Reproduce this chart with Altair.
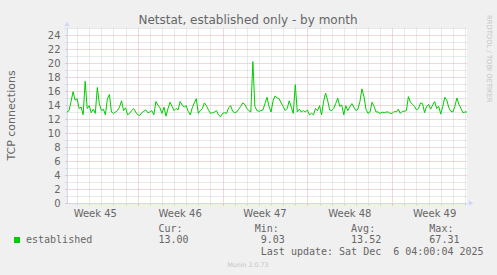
import altair as alt
import pandas as pd

# ---------------- data ----------------
values = [
    13.0, 13.2, 14.5, 15.9, 14.7, 14.9, 13.5, 13.7, 12.6, 17.4,
    13.5, 13.9, 12.9, 13.4, 12.8, 16.5, 14.2, 13.2, 13.4, 12.6,
    14.9, 15.5, 13.0, 12.8, 13.0, 13.2, 13.7, 14.6, 13.2, 13.6,
    12.6, 12.8, 13.2, 13.5, 13.0, 12.6, 12.5, 12.9, 13.1, 13.3,
    12.9, 13.0, 13.2, 12.6, 14.5, 14.0, 13.6, 12.8, 13.7, 12.4,
    13.5, 14.4, 13.8, 13.2, 13.5, 13.3, 14.5, 14.0, 13.7, 13.9,
    13.1, 12.6, 13.6, 14.3, 14.9, 12.8, 13.2, 13.5, 14.3, 13.9,
    13.3, 12.8, 12.9, 13.0, 13.2, 12.6, 12.3, 12.8, 12.9, 12.8,
    13.6, 13.9, 13.1, 12.9, 13.0, 13.4, 13.8, 14.3, 14.1, 13.5,
    13.2, 13.0, 20.2, 13.8, 13.2, 13.1, 13.2, 13.3, 14.2, 15.1,
    13.8, 13.0, 14.6, 15.3, 15.0, 14.9, 14.3, 13.8, 13.2, 13.5,
    14.6, 13.7, 12.8, 16.9, 13.0, 13.4, 13.0, 13.2, 13.0, 13.3,
    12.6, 12.8, 12.6, 13.5, 13.2, 13.9, 12.6, 14.5, 15.7, 14.7,
    13.3, 13.2, 13.5, 14.2, 15.0, 13.8, 14.0, 12.6, 13.9, 13.2,
    13.7, 14.2, 13.7, 13.2, 13.4, 14.5, 16.3, 15.2, 13.4, 12.8,
    13.0, 14.4, 13.8, 13.0, 13.0, 12.8, 13.0, 12.9, 13.0, 13.0,
    12.8, 12.8, 13.1, 13.0, 13.4, 12.8, 13.1, 13.1, 13.2, 15.2,
    14.4, 14.1, 13.8, 13.3, 13.5, 14.3, 14.2, 12.9, 13.8, 14.1,
    13.4, 14.0, 14.5, 13.5, 13.8, 12.7, 13.8, 15.1, 14.7, 13.6,
    13.1, 13.0, 13.8, 15.0, 14.1, 13.5, 12.9, 13.0, 13.0,
]
START = pd.Timestamp("2025-11-03 04:00", tz="UTC")
END = pd.Timestamp("2025-12-06 04:00", tz="UTC")

week_labels = ["Week 45", "Week 46", "Week 47", "Week 48", "Week 49"]
week_mids = ["2025-11-05T12:00:00Z", "2025-11-12T12:00:00Z", "2025-11-19T12:00:00Z",
             "2025-11-26T12:00:00Z", "2025-12-03T12:00:00Z"]
y_ticks = list(range(0, 26))
series_name = "established"
stat_names = ["Cur:", "Min:", "Avg:", "Max:"]
stat_values = ["13.00", "9.03", "13.52", "67.31"]
last_update = "Last update: Sat Dec\u00a0\u00a06 04:00:04 2025"
title_text = "Netstat, established only - by month"
y_title = "TCP connections"
watermark = "Munin 2.0.73"
side_text = "RRDTOOL / TOBI OETIKER"

# ---------------- styles ----------------
FONT = "DejaVu Sans"
MONO = "DejaVu Sans Mono"
FONT_COL = "#666666"
GRID = "#D2D2D2"
MGRID = "#ECAEAE"
AXIS = "#CFD6F8"
LINE = "#00CC00"


def iso(ts):
    return ts.strftime("%Y-%m-%dT%H:%M:%SZ")


def ms(ts):
    return int(ts.timestamp() * 1000)


times = pd.date_range(START, periods=len(values), freq="4h")
df = pd.DataFrame({"t": [iso(t) for t in times], "v": values})

days = pd.date_range("2025-11-04", "2025-12-06", freq="D", tz="UTC")
weeks = pd.DataFrame({"t": week_mids, "label": week_labels})
arrow_up = pd.DataFrame({"t": [iso(START)], "v": [25]})
arrow_right = pd.DataFrame({"t": [iso(END)], "v": [0]})
dummy = pd.DataFrame({"a": [0]})

xscale = alt.Scale(type="utc", domain=[ms(START), ms(END)])
yscale = alt.Scale(domain=[0, 25], nice=False, zero=True)

X_COND = {"condition": {"test": "utcday(datum.value) === 0", "value": MGRID}, "value": GRID}
Y_COND = {"condition": {"test": "datum.value % 2 === 0", "value": MGRID}, "value": GRID}

AXX = alt.Axis(
    values=[ms(d) for d in days], labels=False, title=None,
    grid=True, gridColor=X_COND, gridDash=[1, 1], gridCap="butt", gridWidth=1, gridOpacity=1,
    tickSize=2, tickColor=X_COND,
    domainColor=AXIS, domainWidth=1)
AXY = alt.Axis(
    values=y_ticks, title=None,
    grid=True, gridColor=Y_COND, gridDash=[1, 1], gridCap="butt", gridWidth=1, gridOpacity=1,
    tickSize=2, tickColor=Y_COND,
    labelExpr="datum.value % 2 === 0 ? datum.label : ''",
    labelFont=FONT, labelFontSize=10, labelColor=FONT_COL, labelPadding=5,
    domainColor=AXIS, domainWidth=1)

X = alt.X("t:T", scale=xscale, axis=AXX)
Y = alt.Y("v:Q", scale=yscale, axis=AXY)

line = alt.Chart(df).mark_line(color=LINE, strokeWidth=1).encode(x=X, y=Y)

week_text = alt.Chart(weeks).mark_text(
    font=FONT, fontSize=10, color=FONT_COL, align="center", baseline="alphabetic").encode(
    x=X, y=alt.value(188.5), text="label:N")

up = alt.Chart(arrow_up).mark_point(shape="triangle-up", filled=True, color=AXIS, opacity=1,
                                     size=28, yOffset=-4).encode(x=X, y=Y)
right = alt.Chart(arrow_right).mark_point(shape="triangle-right", filled=True, color=AXIS, opacity=1,
                                           size=28, xOffset=4).encode(x=X, y=Y)


def label(txt, x, y, font=FONT, size=10, color=FONT_COL, align="left", baseline="alphabetic", angle=0):
    kw = dict(font=font, fontSize=size, color=color, align=align, baseline=baseline)
    if angle:
        kw["angle"] = angle
    return alt.Chart(dummy).mark_text(**kw).encode(
        x=alt.value(x), y=alt.value(y), text=alt.value(txt))


CH = 6.02          # mono advance
LX = 26 - 67       # legend text origin (plot coords)


def col(c):
    return LX + c * CH


texts = [
    label(title_text, 181, -4, size=12, align="center"),
    label(y_title, -55, 87.5, size=11, align="center", baseline="middle", angle=270),
    label(side_text, 421.5, -13, size=6.8, color="#c4c4c4", align="left", baseline="middle", angle=90),
    label(watermark, 181, 238.7, size=6.3, color="#c4c4c4", align="center"),
    label(series_name, col(0), 215.3, font=MONO),
    label(last_update, col(39), 227, font=MONO),
]
stat_cols_head = [22, 38, 54, 67]
stat_cols_val = [22, 39, 54, 67]
for name, c in zip(stat_names, stat_cols_head):
    texts.append(label(name, col(c), 203.7, font=MONO))
for val, c in zip(stat_values, stat_cols_val):
    texts.append(label(val, col(c), 215.3, font=MONO))

swatch = alt.Chart(dummy).mark_square(size=36, color=LINE, opacity=1, filled=True).encode(
    x=alt.value(-50), y=alt.value(212))

chart = alt.layer(
    line, week_text, up, right, swatch, *texts
).properties(
    width=400, height=175,
    autosize=alt.AutoSizeParams(type="none"),
    padding={"left": 67, "top": 28, "right": 30, "bottom": 72},
    background="#F0F0F0",
).configure_view(stroke=None, fill="white")

chart.save("out.html", embed_options={"renderer": "svg", "actions": False})
